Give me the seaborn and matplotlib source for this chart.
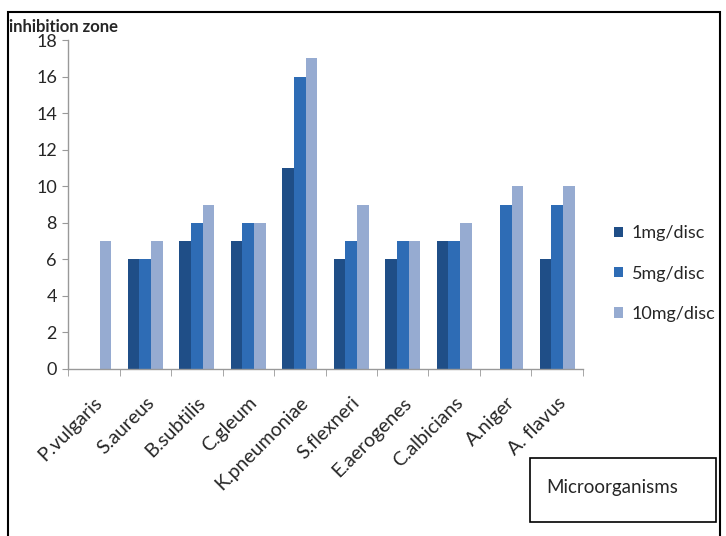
import matplotlib
matplotlib.use("Agg")
import matplotlib.pyplot as plt
from matplotlib.patches import Rectangle
import pandas as pd
import seaborn as sns

organisms = ["P.vulgaris", "S.aureus", "B.subtilis", "C.gleum", "K.pneumoniae",
             "S.flexneri", "E.aerogenes", "C.albicians", "A.niger", "A. flavus"]
dose_1mg = [0, 6, 7, 7, 11, 6, 6, 7, 0, 6]
dose_5mg = [0, 6, 8, 8, 16, 7, 7, 7, 9, 9]
dose_10mg = [7, 7, 9, 8, 17, 9, 7, 8, 10, 10]
doses = ["1mg/disc", "5mg/disc", "10mg/disc"]
colors = ["#1f4e87", "#2e6cb5", "#96abd1"]

df = pd.DataFrame({"organism": organisms * 3,
                   "dose": [d for d in doses for _ in organisms],
                   "zone": dose_1mg + dose_5mg + dose_10mg})

sns.set_style("white")
plt.rcParams["font.family"] = ["Lato", "DejaVu Sans"]

fig = plt.figure(figsize=(7.26, 5.36), dpi=100)
ax = fig.add_axes([0.0937, 0.3116, 0.7093, 0.6134])

sns.barplot(data=df, x="organism", y="zone", hue="dose", palette=colors,
            width=0.68, saturation=1, linewidth=0, ax=ax, legend=True)

ax.set_ylim(0, 18)
ax.set_yticks(range(0, 19, 2))
ax.set_xlim(-0.5, len(organisms) - 0.5)
ax.set_xlabel("")
ax.set_ylabel("")
ax.tick_params(axis="y", labelsize=13, length=4, color="#999999", left=True, pad=4)
ax.tick_params(axis="x", which="major", length=0, labelsize=14, pad=18)
ax.set_xticks([i - 0.5 for i in range(len(organisms) + 1)], minor=True)
ax.tick_params(axis="x", which="minor", length=5, color="#999999", bottom=True)
plt.setp(ax.get_xticklabels(), rotation=45, ha="right", rotation_mode="anchor")

for side in ["top", "right"]:
    ax.spines[side].set_visible(False)
for side in ["left", "bottom"]:
    ax.spines[side].set_color("#999999")
    ax.spines[side].set_linewidth(1)

ax.legend(loc="center left", bbox_to_anchor=(1.06, 0.29), frameon=False,
          fontsize=13, handlelength=0.5, handleheight=0.5, labelspacing=1.35,
          handletextpad=0.5, borderpad=0, borderaxespad=0)

fig.text(0.013, 0.95, "inhibition zone", fontsize=12, fontweight="bold",
         va="center", ha="left", fontstretch="condensed")

# microorganisms box
fig.patches.append(Rectangle((530 / 726, 1 - 522 / 536), 186 / 726, 64 / 536,
                             transform=fig.transFigure, fill=False, ec="black", lw=1.2))
fig.text(546 / 726, 1 - 487 / 536, "Microorganisms", fontsize=13.5,
         ha="left", va="center")

fig.patches.append(Rectangle((0.011, -0.01), 0.981, 0.988, transform=fig.transFigure,
                             fill=False, ec="black", lw=1.5))

fig.savefig("out.png", dpi=100)
